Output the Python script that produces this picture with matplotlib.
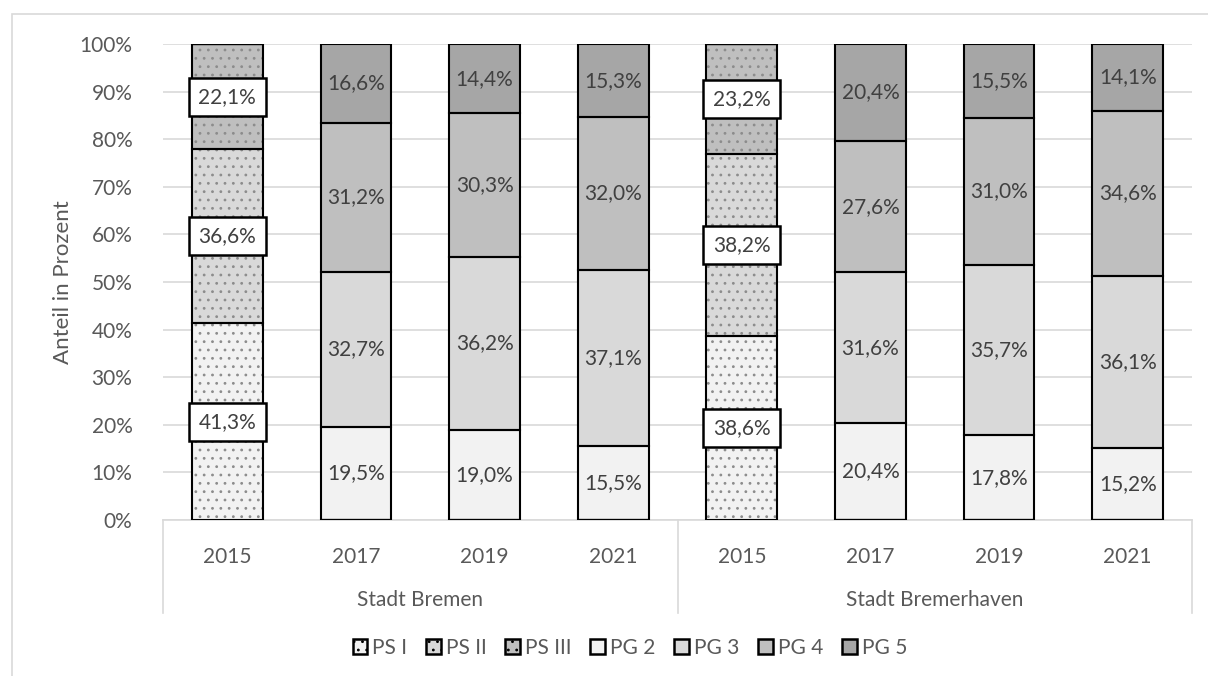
import matplotlib.pyplot as plt
from matplotlib.patches import Rectangle, Patch
from matplotlib.lines import Line2D
import numpy as np

plt.rcParams['font.family'] = ['Lato', 'DejaVu Sans']
plt.rcParams['hatch.linewidth'] = 0.8

# Daten
groups = ["Stadt Bremen", "Stadt Bremerhaven"]
years = ["2015", "2017", "2019", "2021", "2015", "2017", "2019", "2021"]
series = ["PS I", "PS II", "PS III", "PG 2", "PG 3", "PG 4", "PG 5"]

ps1 = [41.3, 0, 0, 0, 38.6, 0, 0, 0]
ps2 = [36.6, 0, 0, 0, 38.2, 0, 0, 0]
ps3 = [22.1, 0, 0, 0, 23.2, 0, 0, 0]
pg2 = [0, 19.5, 19.0, 15.5, 0, 20.4, 17.8, 15.2]
pg3 = [0, 32.7, 36.2, 37.1, 0, 31.6, 35.7, 36.1]
pg4 = [0, 31.2, 30.3, 32.0, 0, 27.6, 31.0, 34.6]
pg5 = [0, 16.6, 14.4, 15.3, 0, 20.4, 15.5, 14.1]

values = [ps1, ps2, ps3, pg2, pg3, pg4, pg5]
colors = ['#f2f2f2', '#d9d9d9', '#bfbfbf', '#f2f2f2', '#d9d9d9', '#bfbfbf', '#a6a6a6']
hatches = ['..', '..', '..', None, None, None, None]
boxed = [True, True, True, False, False, False, False]

text_col = '#595959'
label_col = '#404040'
fs = 15

fig = plt.figure(figsize=(12.08, 6.76), dpi=100)
ax = fig.add_axes([163 / 1208, 1 - 520 / 676, 1029 / 1208, 476 / 676])

# Rahmen um die Grafik
fig.add_artist(Rectangle((12 / 1208, -0.1), 1.2, (676 - 14) / 676 + 0.1,
                         transform=fig.transFigure, fill=False,
                         edgecolor='#d9d9d9', linewidth=1.2))

x = np.arange(len(years))
width = 0.55
bottom = np.zeros(len(years))

for i, name in enumerate(series):
    vals = np.array(values[i])
    # Füllung + Schraffur
    ax.bar(x, vals, width, bottom=bottom, color=colors[i], hatch=hatches[i],
           edgecolor='#8c8c8c' if hatches[i] else colors[i], linewidth=0, zorder=2)
    # Umriss
    ax.bar(x, vals, width, bottom=bottom, fill=False, edgecolor='black',
           linewidth=1.5, zorder=3)
    for j, v in enumerate(vals):
        if v <= 0:
            continue
        lbl = f"{v:.1f}%".replace('.', ',')
        y = bottom[j] + v / 2
        if boxed[i]:
            # weißes Kästchen hinter dem Label
            ax.add_patch(Rectangle((x[j] - 0.3, y - 4.0), 0.6, 8.0,
                                   facecolor='white', edgecolor='black',
                                   linewidth=1.8, zorder=4))
        ax.text(x[j], y, lbl, ha='center', va='center', fontsize=fs,
                color=label_col, zorder=5)
    bottom += vals

ax.set_xlim(-0.5, len(years) - 0.5)
ax.set_ylim(0, 100)
ax.set_yticks(np.arange(0, 101, 10))
ax.set_yticklabels([f"{t}%" for t in range(0, 101, 10)])
ax.yaxis.grid(True, color='#d9d9d9', linewidth=1.2, zorder=0)
ax.set_axisbelow(True)
ax.tick_params(axis='y', length=0, labelsize=fs, labelcolor=text_col, pad=22)
ax.set_ylabel("Anteil in Prozent", fontsize=16, color=text_col, labelpad=5)

for s in ['top', 'right', 'left']:
    ax.spines[s].set_visible(False)
ax.spines['bottom'].set_color('#d9d9d9')
ax.spines['bottom'].set_linewidth(1.2)

# Kategorien-Achse mit Gruppen
ax.set_xticks([])
trans = ax.get_xaxis_transform()
for j, yr in enumerate(years):
    ax.text(x[j], -37 / 476, yr, transform=trans, ha='center', va='center',
            fontsize=fs, color=text_col)
for g, name in enumerate(groups):
    ax.text(g * 4 + 1.5, -80 / 476, name, transform=trans, ha='center',
            va='center', fontsize=fs, color=text_col)
for xs in [-0.5, 3.5, 7.5]:
    ax.add_line(Line2D([xs, xs], [0, -93 / 476], transform=trans,
                       color='#d9d9d9', linewidth=1.2, clip_on=False))

# Legende
handles = [Patch(facecolor=colors[i], hatch=hatches[i], edgecolor='black',
                 linewidth=1.8) for i in range(len(series))]
leg = fig.legend(handles, series, loc='center', bbox_to_anchor=(630 / 1208, 1 - 648 / 676),
                 ncol=7, frameon=False, fontsize=fs, handlelength=0.7,
                 handleheight=0.7, handletextpad=0.25, columnspacing=0.9)
for t in leg.get_texts():
    t.set_color(text_col)

plt.savefig("out.png", dpi=100)
plt.close()
